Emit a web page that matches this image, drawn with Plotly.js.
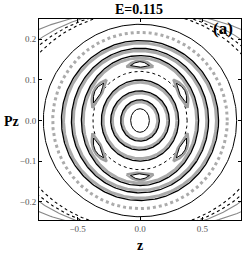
<!DOCTYPE html>
<html>
<head>
<meta charset="utf-8">
<script src="https://cdn.plot.ly/plotly-3.0.1.min.js"></script>
<style>html,body{margin:0;padding:0;background:#fff;}#chart{width:243px;height:253px;}</style>
</head>
<body>
<div id="chart"></div>
<script>
// Invariant curves (tori) read from the section: semi-axis in z and in Pz
const blackRingA = [0.075, 0.155, 0.235, 0.310, 0.470, 0.550, 0.630, 0.775];
const blackRingB = [0.029, 0.051, 0.073, 0.100, 0.160, 0.178, 0.197, 0.237];
const blackRingW = [1, 1.3, 1.3, 1.3, 1.3, 1.3, 1.3, 1];
const grayBandA = [0.142, 0.222, 0.296, 0.455, 0.535, 0.613];
const grayBandB = [0.046, 0.068, 0.094, 0.154, 0.172, 0.191];
const grayDotA = [0.700];
const grayDotB = [0.217];
const sepA = [0.378];
const sepB = [0.121];
// open curves in the corners
const cornerA = [1.028, 1.107, 1.188, 1.454];
const cornerB = [0.268, 0.271, 0.273, 0.271];
const cornerColor = ['#000', '#000', '#888', '#888'];
const cornerDash = ['dot', 'dot', 'solid', 'solid'];
// island chain
const islandA = 0.392, islandB = 0.138;
const islandAngle = [90, 30, -30, -90, -150, 150];
const islandHalf = [16, 17, 17, 16, 17, 17];
const islandThick = [0.07, 0.085, 0.085, 0.07, 0.085, 0.085];

const xTicks = [-0.5, 0.0, 0.5];
const yTicks = [-0.2, -0.1, 0.0, 0.1, 0.2];

function ell(a, b, n) {
  const x = [], y = [];
  for (let i = 0; i <= n; i++) { const t = 2 * Math.PI * i / n; x.push(a * Math.cos(t)); y.push(b * Math.sin(t)); }
  return {x, y};
}
function island(c, h, w, scale) {
  const x = [], y = [], n = 40;
  for (let k = 0; k <= 2 * n; k++) {
    let f, s;
    if (k <= n) { f = k / n; s = 1 + w * scale * Math.sin(Math.PI * f); }
    else { f = 1 - (k - n) / n; s = 1 - w * scale * Math.sin(Math.PI * f); }
    const t = (c - h * scale + 2 * h * scale * f) * Math.PI / 180;
    x.push(islandA * s * Math.cos(t)); y.push(islandB * s * Math.sin(t));
  }
  return {x, y};
}
const traces = [];
cornerA.forEach((a, i) => {
  const e = ell(a, cornerB[i], 600);
  traces.push({x: e.x, y: e.y, mode: 'lines', line: {color: cornerColor[i], width: 1.1, dash: cornerDash[i]}, hoverinfo: 'skip'});
});
grayBandA.forEach((a, i) => {
  const e = ell(a, grayBandB[i], 300);
  traces.push({x: e.x, y: e.y, mode: 'lines', line: {color: '#aaaaaa', width: 3}, hoverinfo: 'skip'});
});
grayDotA.forEach((a, i) => {
  const e = ell(a, grayDotB[i], 300);
  traces.push({x: e.x, y: e.y, mode: 'lines', line: {color: '#ababab', width: 3, dash: 'dot'}, hoverinfo: 'skip'});
});
blackRingA.forEach((a, i) => {
  const e = ell(a, blackRingB[i], 300);
  traces.push({x: e.x, y: e.y, mode: 'lines', line: {color: '#000', width: blackRingW[i]}, hoverinfo: 'skip'});
});
sepA.forEach((a, i) => {
  const e = ell(a, sepB[i], 300);
  traces.push({x: e.x, y: e.y, mode: 'lines', line: {color: '#000', width: 1, dash: 'dot'}, hoverinfo: 'skip'});
});
islandAngle.forEach((c, i) => {
  const g = island(c, islandHalf[i], islandThick[i], 1);
  traces.push({x: g.x, y: g.y, mode: 'lines', line: {color: '#a0a0a0', width: 2.5}, hoverinfo: 'skip'});
  const k = island(c, islandHalf[i], islandThick[i], 0.7);
  traces.push({x: k.x, y: k.y, mode: 'lines', line: {color: '#000', width: 1}, hoverinfo: 'skip'});
});

const serif = 'Liberation Serif, Times New Roman, serif';
const layout = {
  width: 243, height: 253,
  margin: {l: 39, r: 2, t: 19, b: 33},
  paper_bgcolor: '#fff', plot_bgcolor: '#fff',
  showlegend: false,
  title: {text: '<b>E=0.115</b>', font: {family: serif, size: 14, color: '#000'}, x: 0.572, xref: 'container', xanchor: 'center', y: 0.965, yref: 'container', yanchor: 'middle'},
  xaxis: {range: [-0.81, 0.81], tickvals: xTicks, ticktext: xTicks.map(v => (v < 0 ? '\u2212' : '') + Math.abs(v).toFixed(1)),
    showgrid: false, zeroline: false, showline: true, linecolor: '#000', linewidth: 1, mirror: 'ticks',
    ticks: 'inside', ticklen: 3, tickcolor: '#000', tickfont: {family: serif, size: 9, color: '#555'},
    title: {text: '<b>z</b>', font: {family: serif, size: 14, color: '#000'}, standoff: 7}},
  yaxis: {range: [-0.245, 0.25], tickvals: yTicks, ticktext: yTicks.map(v => (v < 0 ? '\u2212' : '') + Math.abs(v).toFixed(1)),
    showgrid: false, zeroline: false, showline: true, linecolor: '#000', linewidth: 1, mirror: 'ticks',
    ticks: 'inside', ticklen: 3, tickcolor: '#000', tickfont: {family: serif, size: 9, color: '#555'}},
  annotations: [
    {text: '<b>Pz</b>', xref: 'paper', yref: 'paper', x: -0.135, y: 0.49, xanchor: 'center', yanchor: 'middle', showarrow: false, font: {family: serif, size: 14, color: '#000'}},
    {text: '<b>(a)</b>', xref: 'paper', yref: 'paper', x: 0.97, y: 0.955, xanchor: 'right', yanchor: 'middle', showarrow: false, font: {family: serif, size: 17, color: '#000'}}
  ]
};
Plotly.newPlot('chart', traces, layout, {staticPlot: true, displayModeBar: false});
</script>
</body>
</html>
